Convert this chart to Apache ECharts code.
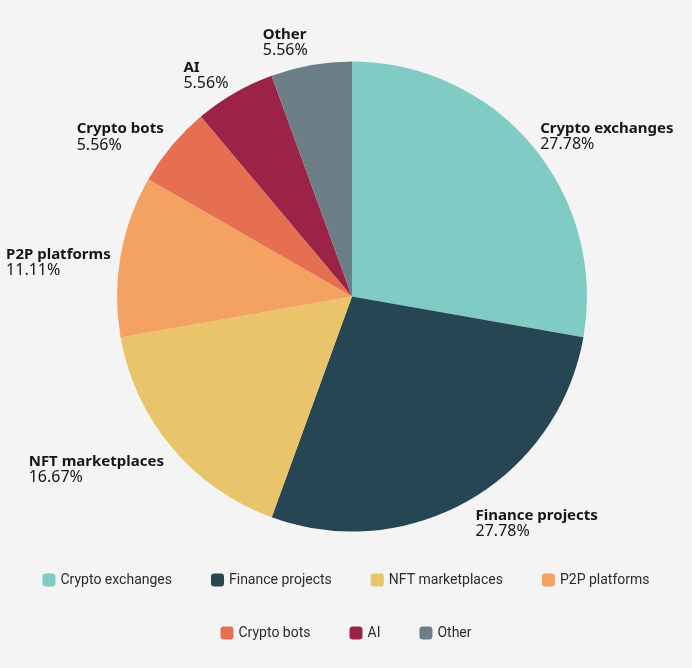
<!DOCTYPE html>
<html>
<head>
<meta charset="utf-8">
<script src="https://cdn.jsdelivr.net/npm/echarts@6/dist/echarts.min.js"></script>
<style>
html,body{margin:0;padding:0;background:#f4f4f4;}
#main{width:692px;height:668px;}
</style>
</head>
<body>
<div id="main"></div>
<script>
const categories = ['Crypto exchanges', 'Finance projects', 'NFT marketplaces', 'P2P platforms', 'Crypto bots', 'AI', 'Other'];
const values = [27.78, 27.78, 16.67, 11.11, 5.56, 5.56, 5.56];
const colors = ['#80cbc4', '#264653', '#e9c46a', '#f4a261', '#e76f51', '#9b2446', '#6c7e86'];
const legendRow1 = categories.slice(0, 4);
const legendRow2 = categories.slice(4);

const CX = 352, CY = 296.5, R = 235, LABEL_DIST = 243, H_GAP = 2;
const total = values.reduce((a, b) => a + b, 0);

function placeLabel(params) {
  const i = params.dataIndex;
  let cum = 0;
  for (let k = 0; k < i; k++) cum += values[k];
  const mid = (cum + values[i] / 2) / total * Math.PI * 2;
  const vx = Math.sin(mid);
  const vy = -Math.cos(mid);
  const px = CX + LABEL_DIST * vx;
  const py = CY + LABEL_DIST * vy;
  const w = params.labelRect.width, h = params.labelRect.height;
  const left = vx >= 0 ? px + H_GAP : px - w - H_GAP;
  const f = (1 - vy) / 2 - 0.35 * (1 - vy * vy);
  const top = py - h * f;
  return { x: left, y: top, align: 'left', verticalAlign: 'top' };
}

const chart = echarts.init(document.getElementById('main'), null, { renderer: 'canvas' });
const legendCommon = {
  orient: 'horizontal',
  left: 'center',
  icon: 'roundRect',
  itemWidth: 13,
  itemHeight: 13,
  itemGap: 39,
  textStyle: { fontFamily: 'Roboto', fontSize: 14, color: '#2b2b2b' },
  selectedMode: false
};
chart.setOption({
  backgroundColor: '#f4f4f4',
  animation: false,
  color: colors,
  legend: [
    Object.assign({}, legendCommon, { top: 568, data: legendRow1 }),
    Object.assign({}, legendCommon, { top: 621, data: legendRow2 })
  ],
  series: [{
    type: 'pie',
    center: [CX, CY],
    radius: R,
    startAngle: 90,
    clockwise: true,
    avoidLabelOverlap: false,
    emphasis: { disabled: true },
    itemStyle: { borderWidth: 0 },
    label: {
      show: true,
      position: 'outside',
      formatter: p => '{n|' + p.name + '}\n{v|' + p.value.toFixed(2) + '%}',
      rich: {
        n: { fontFamily: 'Noto Sans', fontWeight: 'bold', fontSize: 15, lineHeight: 16, color: '#161616' },
        v: { fontFamily: 'Noto Sans', fontSize: 16, lineHeight: 16, color: '#161616' }
      }
    },
    labelLine: { show: false },
    labelLayout: placeLabel,
    data: categories.map((c, i) => ({ name: c, value: values[i] }))
  }]
});
</script>
</body>
</html>
